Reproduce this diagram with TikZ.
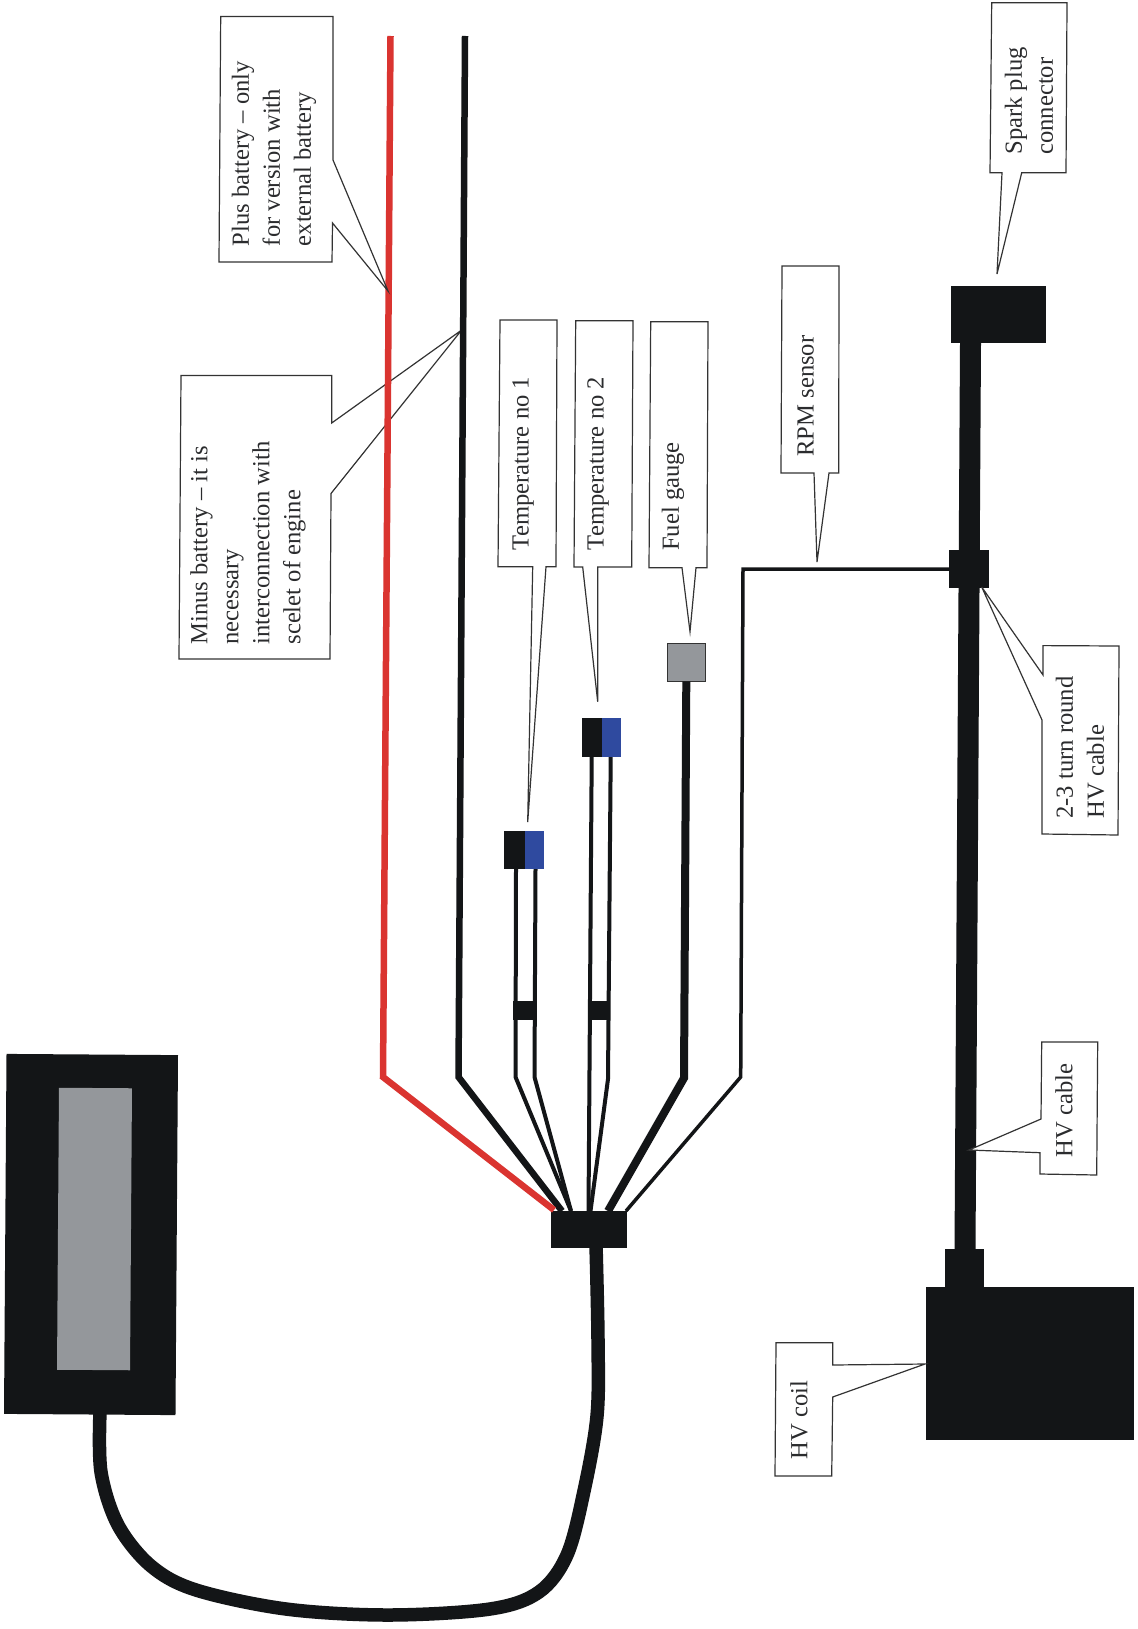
\documentclass[tikz,border=0pt]{standalone}
\usepackage{fontspec}
\setmainfont{Liberation Serif}
\definecolor{blk}{HTML}{131517}
\definecolor{redw}{HTML}{DA3430}
\definecolor{bluec}{HTML}{2F4A9F}
\definecolor{grayc}{HTML}{94979B}
\definecolor{outl}{HTML}{333333}
\tikzset{
  solidbox/.style={fill=blk,draw=none,inner sep=0pt,outer sep=0pt,rectangle},
  bluebox/.style={fill=bluec,draw=none,inner sep=0pt,outer sep=0pt,rectangle},
  callout/.style={draw=outl,line width=1.2pt,fill=white,line join=miter},
  label/.style={rotate=90,inner sep=0pt,align=left,text=blk!90!white,font=\fontsize{24.6}{31}\selectfont},
  redwire/.style={draw=redw,line width=6.5pt,line join=miter},
  mainwire/.style={draw=blk,line width=6.5pt,line join=miter},
  twowire/.style={draw=blk,line width=4pt,line join=miter},
  fuelwire/.style={draw=blk,line width=8pt,line join=miter},
  rpmwire/.style={draw=blk,line width=3.5pt,line join=miter},
  hvwire/.style={draw=blk,line width=21pt},
  mains/.style={draw=blk,line width=13.5pt,line cap=butt,line join=round}
}
\begin{document}
\begin{tikzpicture}[x=1pt,y=-1pt]
\useasboundingbox (0,0) rectangle (1137,1629);
\fill[white] (0,0) rectangle (1137,1629);

% minus battery callout lies under the wires
\draw[callout] (181,375.5) -- (331.7,375.5) -- (331.7,423) -- (461.7,330) -- (331,493.5) -- (330,659) -- (179,659) -- cycle;

% devices
\node[solidbox,minimum width=76pt,minimum height=37pt] (hub) at (589,1229) {};
\node[solidbox,minimum width=95pt,minimum height=57pt] (spark) at (998.5,314.5) {};
\node[solidbox,minimum width=40pt,minimum height=38pt] (ring) at (969,569) {};
\node[solidbox,minimum width=39pt,minimum height=38pt] (collar) at (964.5,1268) {};
\node[solidbox,minimum width=208pt,minimum height=153pt] (coil) at (1030,1363) {};
\node[fill=grayc,draw=outl,line width=.8pt,inner sep=0pt,minimum width=38pt,minimum height=38pt] (fuel) at (686.3,662) {};

% wire end points
\coordinate (redTop) at (390.5,36);
\coordinate (redBend) at (383,1077);
\coordinate (redEnd) at (554,1210);
\coordinate (blkTop) at (465,36);
\coordinate (blkBend) at (458.5,1077);
\coordinate (blkEnd) at (562,1211);
\coordinate (aL) at (516,869);
\coordinate (aLb) at (515.5,1077);
\coordinate (aR) at (535.5,869);
\coordinate (aRb) at (534.5,1077);
\coordinate (aEnd) at (571,1211);
\coordinate (bL) at (591.7,757);
\coordinate (bEnd) at (588.5,1211);
\coordinate (bR) at (610.7,757);
\coordinate (bRb) at (608,1079);
\coordinate (bEndR) at (590.5,1211);
\coordinate (fBend) at (684,1078);
\coordinate (fEnd) at (608,1211);
\coordinate (rCorner) at (743,569);
\coordinate (rBend) at (740.7,1077);
\coordinate (rEnd) at (626,1211);

\draw[mainwire] (blkTop) -- (blkBend) -- (blkEnd);
\draw[redwire] (redTop) -- (redBend) -- (redEnd);
\draw[twowire] (aL) -- (aLb) -- (aEnd);
\draw[twowire] (aR) -- (aRb) -- (aEnd);
\draw[twowire] (bL) -- (bEnd);
\draw[twowire] (bR) -- (bRb) -- (bEndR);
\draw[fuelwire] (fuel.south) -- (fBend) -- (fEnd);
\draw[rpmwire] (ring.west) -- (rCorner) -- (rBend) -- (rEnd);

% temperature connectors
\node[solidbox,minimum width=23pt,minimum height=19pt] (barA) at (524.5,1010.5) {};
\node[solidbox,minimum width=20pt,minimum height=19pt] (barB) at (599,1010.5) {};
\node[solidbox,minimum width=21pt,minimum height=38pt] (blkA) at (514.5,849.5) {};
\node[bluebox,minimum width=19pt,minimum height=38pt] (bluA) at (534.5,849.5) {};
\node[solidbox,minimum width=20pt,minimum height=39pt] (blkB) at (591.7,737.7) {};
\node[bluebox,minimum width=19pt,minimum height=39pt] (bluB) at (611.2,737.7) {};

% HV cable
\coordinate (hvTop) at (970.5,343);
\coordinate (hvBot) at (965,1250);
\draw[hvwire] (hvTop) -- (hvBot);

% display and its cable
\coordinate (dispOut) at (100,1412);
\coordinate (hubOut) at (596,1245);
\draw[mains] plot[smooth,tension=.55] coordinates {(dispOut) (101,1472) (118,1525) (151,1566) (196,1590) (286,1609) (388,1615) (490,1609) (539,1592) (567,1555) (584,1491) (597,1416) (598,1340) (hubOut)};
\node[solidbox,rotate=-0.4,minimum width=171.5pt,minimum height=360pt] (display) at (91,1234.5) {};
\node[rectangle,fill=grayc,draw=none,inner sep=0pt,rotate=-0.4,minimum width=73pt,minimum height=282pt] (screen) at (94.5,1229) {};

% remaining callouts
\draw[callout] (220.7,16.5) -- (333,16.5) -- (333,160) -- (388,291) -- (332.5,223) -- (332,262) -- (219,262) -- cycle;
\draw[callout] (500,320) -- (557,320) -- (556,566.7) -- (546,566.7) -- (527.7,822) -- (532.7,566.7) -- (498,566.7) -- cycle;
\draw[callout] (575.7,320.7) -- (633,320.7) -- (631.7,567) -- (597.7,567) -- (597.7,701.7) -- (582.7,567) -- (574,567) -- cycle;
\draw[callout] (650.7,321.7) -- (708,321.7) -- (707,567.7) -- (696,567.7) -- (690,631.7) -- (682,567.7) -- (649,567.7) -- cycle;
\draw[callout] (782,266) -- (839,266) -- (838.7,473) -- (829,473) -- (817,562) -- (814,473) -- (781,473) -- cycle;
\draw[callout] (991.7,2.7) -- (1067,2.7) -- (1066,172.8) -- (1021.7,172.8) -- (997,274) -- (1002,172.8) -- (990,172.8) -- cycle;
\draw[callout] (1043,645.6) -- (1119,646) -- (1118,835) -- (1042,834) -- (1042,720) -- (981.7,587) -- (1043,675) -- cycle;
\draw[callout] (1041.7,1042) -- (1097.7,1042) -- (1096.7,1175) -- (1040,1174) -- (1040,1152.7) -- (969,1150) -- (1041,1119) -- cycle;
\draw[callout] (776,1342.7) -- (832.7,1342.7) -- (832.7,1365) -- (925,1364) -- (832.7,1397) -- (831.7,1476) -- (775,1476) -- cycle;

% texts
\node[label] (tPlus) at (274,153.5) {Plus battery – only\\for version with\\external battery};
\node[label] (tMinus) at (248,543) {Minus battery – it is\\necessary\\interconnection with\\scelet of engine};
\node[label] (tT1) at (523,463.5) {Temperature no 1};
\node[label] (tT2) at (598,463.5) {Temperature no 2};
\node[label] (tFuel) at (673,496.5) {Fuel gauge};
\node[label] (tRpm) at (805.7,396) {RPM sensor};
\node[label] (tSpark) at (1029,101) {Spark plug\\connector};
\node[label] (tTurn) at (1080,747.5) {2-3 turn round\\HV cable};
\node[label] (tCable) at (1064,1110.5) {HV cable};
\node[label] (tCoil) at (799,1420) {HV coil};
\end{tikzpicture}
\end{document}
